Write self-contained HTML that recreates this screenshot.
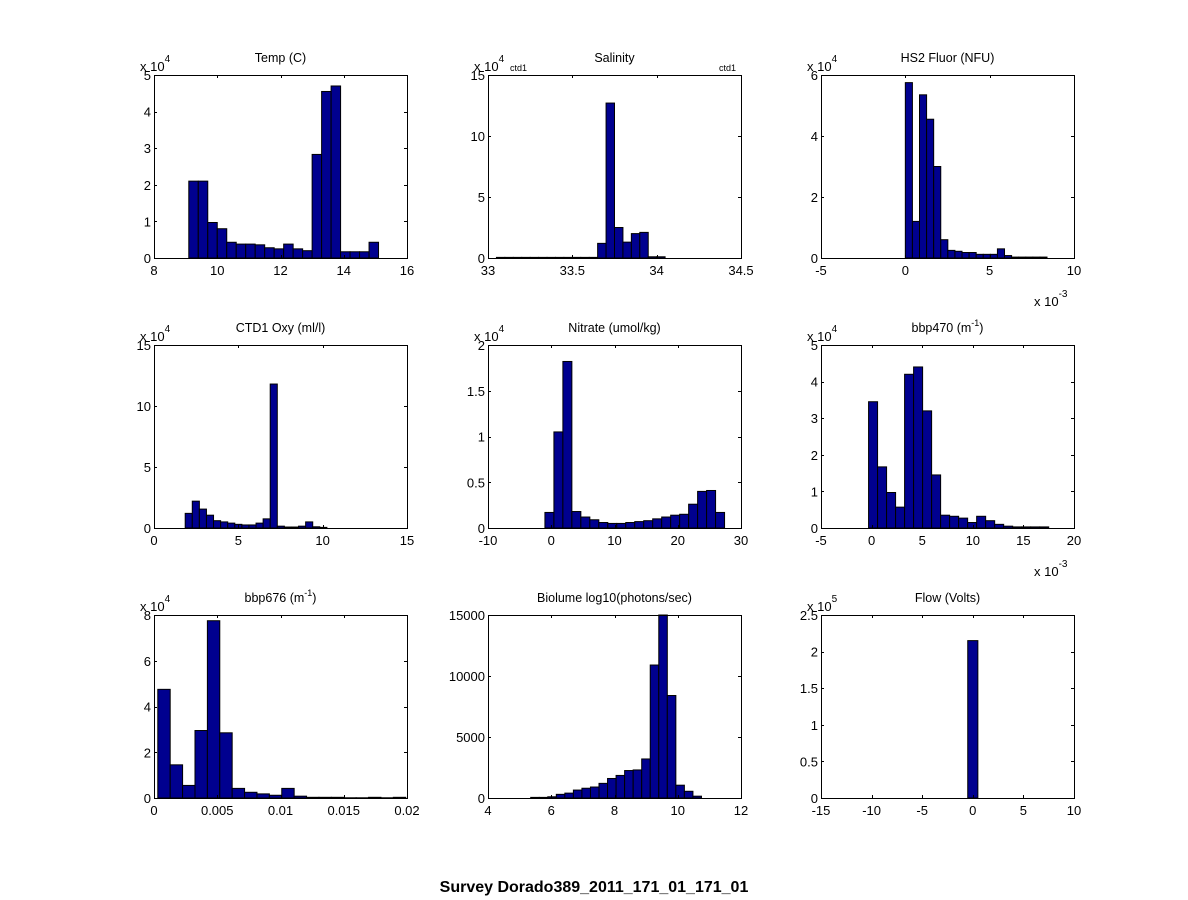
<!DOCTYPE html>
<html><head><meta charset="utf-8"><style>
html,body{margin:0;padding:0;background:#fff;}
svg{display:block;font-family:"Liberation Sans",Arial,sans-serif;}
</style></head><body>
<svg id="fig" width="1188" height="900" viewBox="0 0 1188 900" xmlns="http://www.w3.org/2000/svg">
<rect x="0" y="0" width="1188" height="900" fill="#fff"/>
<text x="594" y="892" text-anchor="middle" font-size="16" font-weight="bold">Survey Dorado389_2011_171_01_171_01</text>
</svg>
<script>
// ---- data (y values in units of the axis multiplier) ----
const tempCounts = [2.1,2.1,0.97,0.8,0.43,0.38,0.38,0.36,0.28,0.25,0.38,0.25,0.2,2.83,4.55,4.7,0.17,0.17,0.17,0.43];
const tempBins = [9.1, 0.3];
const salCounts = [0.05,0.05,0.05,0.05,0.05,0.05,0.05,0.05,0.05,0.05,0.05,0.05,1.2,12.7,2.5,1.3,2.0,2.1,0.1,0.1];
const salBins = [33.05, 0.05];
const fluorCounts = [5.75,1.2,5.35,4.55,3.0,0.6,0.25,0.22,0.18,0.18,0.12,0.12,0.12,0.3,0.08,0.03,0.03,0.03,0.03,0.03];
const fluorBins = [0, 0.42];
const oxyCounts = [1.2,2.2,1.55,1.05,0.6,0.5,0.4,0.3,0.25,0.25,0.4,0.75,11.8,0.15,0.08,0.08,0.15,0.5,0.1,0.05];
const oxyBins = [1.85, 0.42];
const nitCounts = [0.17,1.05,1.82,0.18,0.12,0.09,0.06,0.05,0.05,0.06,0.07,0.08,0.1,0.12,0.14,0.15,0.26,0.4,0.41,0.17];
const nitBins = [-1, 1.42];
const b470Counts = [3.45,1.67,0.97,0.57,4.2,4.4,3.2,1.45,0.35,0.32,0.27,0.15,0.32,0.2,0.1,0.05,0.03,0.03,0.03,0.03];
const b470Bins = [-0.3, 0.89];
const b676Counts = [4.75,1.45,0.55,2.95,7.75,2.85,0.42,0.25,0.18,0.12,0.42,0.08,0.03,0.03,0.03,0.01,0.01,0.03,0.01,0.03];
const b676Bins = [0.0003, 0.00098];
const bioCounts = [50,50,100,300,400,650,800,900,1200,1600,1850,2250,2300,3200,10900,15000,8400,1050,550,150];
const bioBins = [5.35, 0.27];
const flowCounts = [2.15];
const flowBins = [-0.5, 1];

const tempXTicks=[8,10,12,14,16], tempYTicks=[0,1,2,3,4,5];
const salXTicks=[33,33.5,34,34.5], salYTicks=[0,5,10,15];
const fluorXTicks=[-5,0,5,10], fluorYTicks=[0,2,4,6];
const oxyXTicks=[0,5,10,15], oxyYTicks=[0,5,10,15];
const nitXTicks=[-10,0,10,20,30], nitYTicks=[0,0.5,1,1.5,2];
const b470XTicks=[-5,0,5,10,15,20], b470YTicks=[0,1,2,3,4,5];
const b676XTicks=[0,0.005,0.01,0.015,0.02], b676YTicks=[0,2,4,6,8];
const bioXTicks=[4,6,8,10,12], bioYTicks=[0,5000,10000,15000];
const flowXTicks=[-15,-10,-5,0,5,10], flowYTicks=[0,0.5,1,1.5,2,2.5];

const NS='http://www.w3.org/2000/svg';
const svg=document.getElementById('fig');
function mk(tag,attrs,parent){const e=document.createElementNS(NS,tag);for(const k in attrs)e.setAttribute(k,attrs[k]);(parent||svg).appendChild(e);return e;}

const colX=[154,488,821], W=253, rowY=[75,345,615], H=183;

function panel(key,title,col,row,counts,bins,xt,yt,yExp,xExp,extra){
  const g=mk('g',{});
  
  
  const L=colX[col],T=rowY[row],R=L+W,B=T+H;
  const x0=xt[0],x1=xt[xt.length-1],y0=yt[0],y1=yt[yt.length-1];
  const sx=v=>L+(v-x0)/(x1-x0)*W, sy=v=>B-(v-y0)/(y1-y0)*H;
  for(let i=0;i<counts.length;i++){
    const a=sx(bins[0]+i*bins[1]), b=sx(bins[0]+(i+1)*bins[1]);
    const r=mk('rect',{x:a,y:sy(counts[i]),width:b-a,height:B-sy(counts[i]),fill:'#00008f',stroke:'#000','stroke-width':1},g);
    
    
  }
  const box=mk('rect',{x:L+0.5,y:T+0.5,width:W,height:H,fill:'none',stroke:'#000','stroke-width':1},g);
  
  
  xt.forEach(v=>{
    const x=Math.round(sx(v))+0.5;
    mk('line',{x1:x,y1:B,x2:x,y2:B-3,stroke:'#000'},g);
    mk('line',{x1:x,y1:T,x2:x,y2:T+3,stroke:'#000'},g);
    const t=mk('text',{x:sx(v),y:B+17,'text-anchor':'middle','font-size':13},g);
    t.textContent=String(v);
    
    
  });
  yt.forEach(v=>{
    const y=Math.round(sy(v))+0.5;
    mk('line',{x1:L,y1:y,x2:L+3,y2:y,stroke:'#000'},g);
    mk('line',{x1:R,y1:y,x2:R-3,y2:y,stroke:'#000'},g);
    const t=mk('text',{x:L-3,y:sy(v)+5,'text-anchor':'end','font-size':13},g);
    t.textContent=String(v);
    
    
  });
  const tt=mk('text',{x:L+W/2,y:T-13,'text-anchor':'middle','font-size':12.5},g);
  tt.innerHTML=title;
  
  
  if(yExp){
    const e=mk('text',{x:L-14,y:T-4,'font-size':13},g);
    e.innerHTML='x 10<tspan dy="-9" font-size="10">'+yExp+'</tspan>';
    
    
  }
  if(xExp){
    const e=mk('text',{x:R-40,y:B+48,'font-size':13},g);
    e.innerHTML='x 10<tspan dy="-9" font-size="10">'+xExp+'</tspan>';
    
    
  }
  if(extra) extra(g,L,T,R,B);
}
panel('temp','Temp (C)',0,0,tempCounts,tempBins,tempXTicks,tempYTicks,'4');
panel('salinity','Salinity',1,0,salCounts,salBins,salXTicks,salYTicks,'4',null,(g,L,T,R,B)=>{
  const a=mk('text',{x:L+22,y:T-4,'font-size':9},g);a.textContent='ctd1';
  
  
  const b=mk('text',{x:R-22,y:T-4,'font-size':9},g);b.textContent='ctd1';
  
  
});
panel('fluor','HS2 Fluor (NFU)',2,0,fluorCounts,fluorBins,fluorXTicks,fluorYTicks,'4','-3');
panel('oxy','CTD1 Oxy (ml/l)',0,1,oxyCounts,oxyBins,oxyXTicks,oxyYTicks,'4');
panel('nitrate','Nitrate (umol/kg)',1,1,nitCounts,nitBins,nitXTicks,nitYTicks,'4');
panel('bbp470','bbp470 (m<tspan dy="-6" font-size="9">-1</tspan><tspan dy="6">)</tspan>',2,1,b470Counts,b470Bins,b470XTicks,b470YTicks,'4','-3');
panel('bbp676','bbp676 (m<tspan dy="-6" font-size="9">-1</tspan><tspan dy="6">)</tspan>',0,2,b676Counts,b676Bins,b676XTicks,b676YTicks,'4');
panel('biolume','Biolume log10(photons/sec)',1,2,bioCounts,bioBins,bioXTicks,bioYTicks,null);
panel('flow','Flow (Volts)',2,2,flowCounts,flowBins,flowXTicks,flowYTicks,'5');
</script>
</body></html>
